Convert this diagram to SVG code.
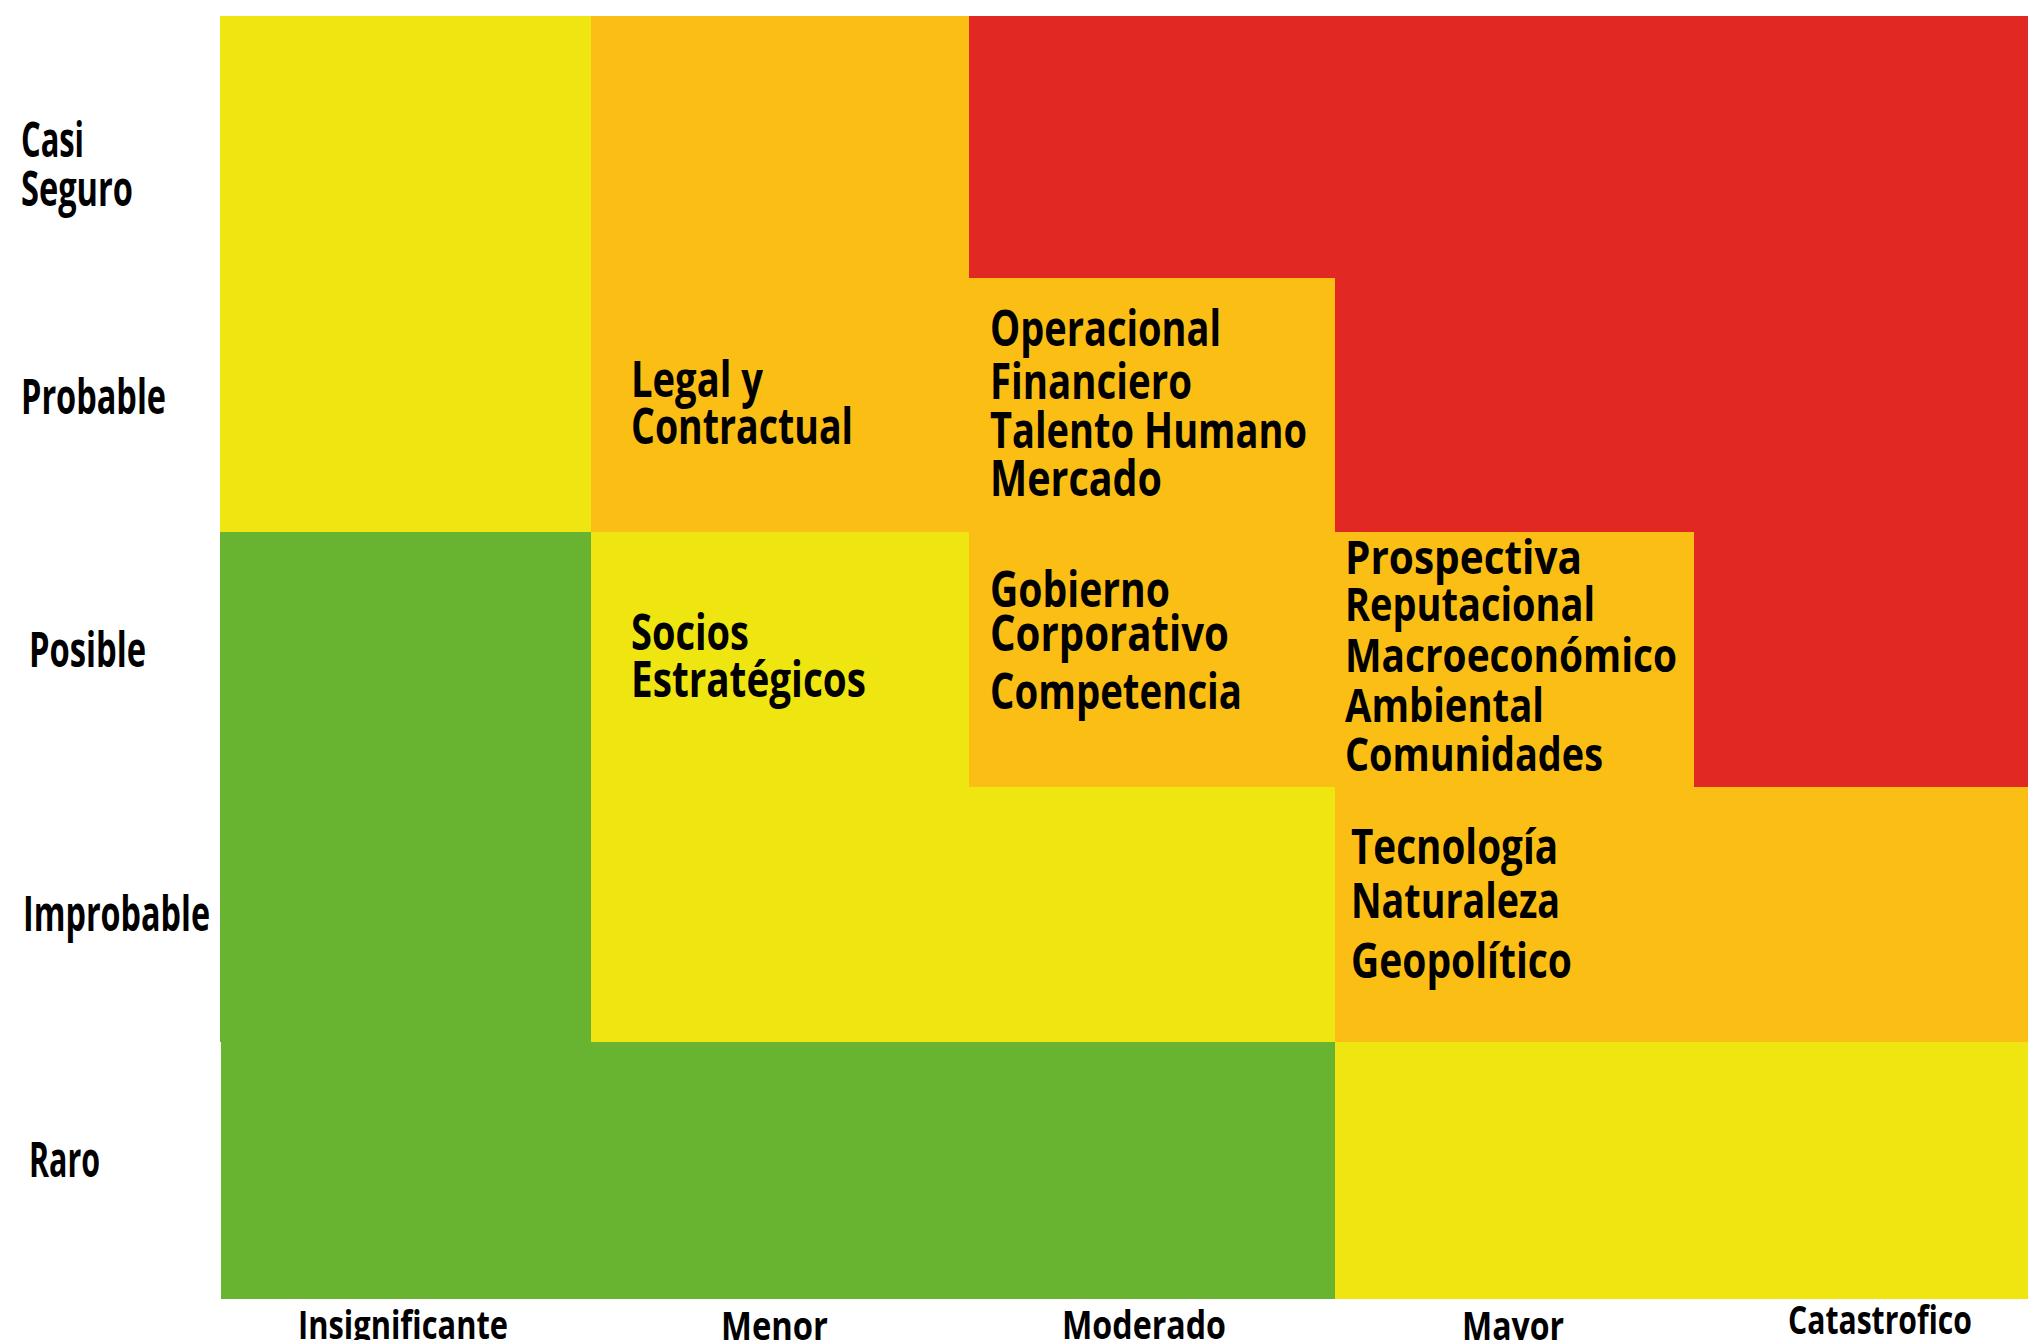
<svg xmlns="http://www.w3.org/2000/svg" width="2028" height="1340" viewBox="0 0 2028 1340">
<style>
.y{fill:#EFE511}.o{fill:#FBBE15}.r{fill:#E22822}.g{fill:#68B32F}
text{font-family:"Open Sans","Liberation Sans",sans-serif;font-weight:700;fill:#000}
.lab{font-size:48px}.cell{font-size:50px}.cell2{font-size:46px}.cell3{font-size:48px}.ax{font-size:40px}
</style>
<rect width="2028" height="1340" fill="#fff"/>
<g id="cells">
<rect class="y" x="220" y="16" width="371" height="516"/>
<rect class="o" x="591" y="16" width="378" height="516"/>
<rect class="r" x="969" y="16" width="1059" height="262"/>
<rect class="o" x="969" y="278" width="366" height="509"/>
<rect class="r" x="1335" y="278" width="693" height="254"/>
<rect class="r" x="1694" y="532" width="334" height="255"/>
<rect class="o" x="1335" y="532" width="359" height="255"/>
<rect class="g" x="220" y="532" width="371" height="510"/>
<rect class="y" x="591" y="532" width="378" height="510"/>
<rect class="y" x="969" y="787" width="366" height="255"/>
<rect class="o" x="1335" y="787" width="693" height="255"/>
<rect class="g" x="221" y="1042" width="1114" height="257"/>
<rect class="y" x="1335" y="1042" width="693" height="257"/>
</g>
<g id="row-labels" class="lab">
<text x="21" y="157" textLength="63" lengthAdjust="spacingAndGlyphs">Casi</text>
<text x="21" y="206" textLength="112" lengthAdjust="spacingAndGlyphs">Seguro</text>
<text x="21" y="414" textLength="145" lengthAdjust="spacingAndGlyphs">Probable</text>
<text x="29" y="667" textLength="117" lengthAdjust="spacingAndGlyphs">Posible</text>
<text x="23" y="931" textLength="187" lengthAdjust="spacingAndGlyphs">Improbable</text>
<text x="29" y="1177" textLength="71" lengthAdjust="spacingAndGlyphs">Raro</text>
</g>
<g id="col-labels" class="ax">
<text x="298" y="1339" textLength="210" lengthAdjust="spacingAndGlyphs">Insignificante</text>
<text x="721" y="1340" textLength="107" lengthAdjust="spacingAndGlyphs">Menor</text>
<text x="1062" y="1339" textLength="164" lengthAdjust="spacingAndGlyphs">Moderado</text>
<text x="1462" y="1340" textLength="102" lengthAdjust="spacingAndGlyphs">Mayor</text>
<text x="1788" y="1334" textLength="184" lengthAdjust="spacingAndGlyphs">Catastrofico</text>
</g>
<g id="node-legal" class="cell">
<text x="631" y="397" textLength="132" lengthAdjust="spacingAndGlyphs">Legal y</text>
<text x="631" y="444" textLength="222" lengthAdjust="spacingAndGlyphs">Contractual</text>
</g>
<g id="node-operacional" class="cell">
<text x="990" y="346" textLength="231" lengthAdjust="spacingAndGlyphs">Operacional</text>
<text x="990" y="399" textLength="202" lengthAdjust="spacingAndGlyphs">Financiero</text>
<text x="990" y="448" textLength="317" lengthAdjust="spacingAndGlyphs">Talento Humano</text>
<text x="990" y="496" textLength="172" lengthAdjust="spacingAndGlyphs">Mercado</text>
</g>
<g id="node-socios" class="cell">
<text x="631" y="650" textLength="118" lengthAdjust="spacingAndGlyphs">Socios</text>
<text x="631" y="697" textLength="235" lengthAdjust="spacingAndGlyphs">Estratégicos</text>
</g>
<g id="node-gobierno" class="cell">
<text x="990" y="607" textLength="180" lengthAdjust="spacingAndGlyphs">Gobierno</text>
<text x="990" y="651" textLength="239" lengthAdjust="spacingAndGlyphs">Corporativo</text>
<text x="990" y="709" textLength="252" lengthAdjust="spacingAndGlyphs">Competencia</text>
</g>
<g id="node-prospectiva" class="cell2">
<text x="1345" y="574" textLength="237" lengthAdjust="spacingAndGlyphs">Prospectiva</text>
<text x="1345" y="621" textLength="250" lengthAdjust="spacingAndGlyphs">Reputacional</text>
<text x="1345" y="672" textLength="332" lengthAdjust="spacingAndGlyphs">Macroeconómico</text>
<text x="1345" y="722" textLength="199" lengthAdjust="spacingAndGlyphs">Ambiental</text>
<text x="1345" y="771" textLength="258" lengthAdjust="spacingAndGlyphs">Comunidades</text>
</g>
<g id="node-tecnologia" class="cell3">
<text x="1351" y="864" textLength="207" lengthAdjust="spacingAndGlyphs">Tecnología</text>
<text x="1351" y="918" textLength="209" lengthAdjust="spacingAndGlyphs">Naturaleza</text>
<text x="1351" y="978" textLength="221" lengthAdjust="spacingAndGlyphs">Geopolítico</text>
</g>
<g id="connectors"/>
</svg>
